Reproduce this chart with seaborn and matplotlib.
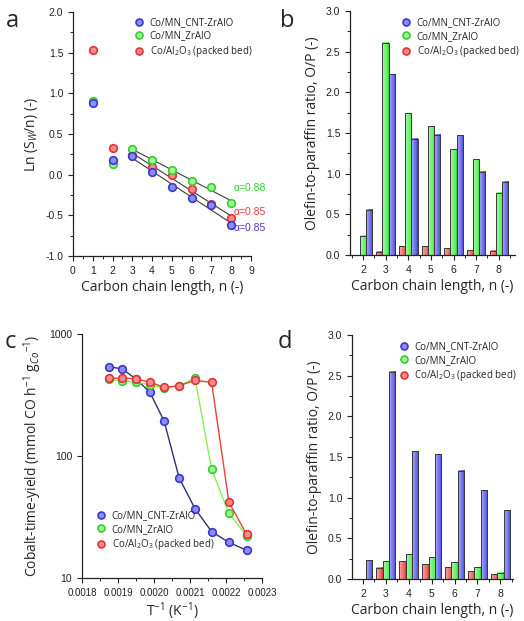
import numpy as np
import pandas as pd
import matplotlib
import matplotlib.pyplot as plt
import seaborn as sns
from matplotlib.lines import Line2D
from matplotlib.colors import to_rgb
from matplotlib.ticker import MultipleLocator, NullLocator, FixedLocator

matplotlib.use('Agg')

# --- Data ---
SERIES = ['Co/MN_CNT-ZrAlO', 'Co/MN_ZrAlO', 'Co/Al$_2$O$_3$ (packed bed)']

# (a) ASF plot
n_asf = [1, 2, 3, 4, 5, 6, 7, 8]
ln_cnt = [0.885, 0.186, 0.232, 0.030, -0.158, -0.293, -0.375, -0.617]
ln_zr = [0.905, 0.125, 0.313, 0.178, 0.060, -0.080, -0.154, -0.346]
ln_al = [1.530, 0.325, 0.244, 0.092, -0.010, -0.174, -0.355, -0.535]
alpha_labels = ['α=0.85', 'α=0.88', 'α=0.85']

# (b) O/P ratio, first condition
n_bar = ['2', '3', '4', '5', '6', '7', '8']
op_b_cnt = [0.557, 2.225, 1.43, 1.48, 1.475, 1.025, 0.90]
op_b_zr = [0.234, 2.61, 1.74, 1.585, 1.30, 1.18, 0.766]
op_b_al = [0.0, 0.04, 0.11, 0.11, 0.086, 0.057, 0.05]

# (c) Cobalt-time-yield vs 1/T
inv_t = [0.001876, 0.001912, 0.001949, 0.001988, 0.002028,
         0.002070, 0.002114, 0.002160, 0.002208, 0.002257]
cty_cnt = [540, 517, 430, 335, 194, 66, 37, 24, 19.6, 16.9]
cty_zr = [425, 414, 402, 385, 360, 377, 435, 78, 34, 22.2]
cty_al = [433, 436, 430, 404, 366, 377, 417, 402, 42, 22.8]

# (d) O/P ratio, second condition
op_d_cnt = [0.233, 2.55, 1.568, 1.535, 1.334, 1.089, 0.843]
op_d_zr = [0.0, 0.217, 0.307, 0.266, 0.209, 0.147, 0.078]
op_d_al = [0.0, 0.14, 0.217, 0.184, 0.147, 0.094, 0.061]

# --- Styling ---
sns.set_style('ticks')
plt.rcParams['font.family'] = ['Liberation Sans', 'DejaVu Sans']
plt.rcParams['mathtext.fontset'] = 'custom'
plt.rcParams['mathtext.rm'] = 'Open Sans'
plt.rcParams['mathtext.it'] = 'Open Sans:italic'

FACE = {'cnt': '#8c8cff', 'zr': '#9cff8c', 'al': '#ff8c8c'}
EDGE = {'cnt': '#3a3ac8', 'zr': '#38c838', 'al': '#e03434'}
BAR = {'cnt': '#4848e8', 'zr': '#44f044', 'al': '#f04848'}
LINE = {'cnt': '#303078', 'zr': '#88f050', 'al': '#f03c3c'}
KEYS = ['cnt', 'zr', 'al']

LABEL_FONT = dict(family='Open Sans', fontsize=10)
TICK_SIZE = 7.5
LEG_SIZE = 7


def style_axes(ax):
    sns.despine(ax=ax)
    ax.tick_params(axis='both', which='major', direction='out', length=3.5,
                   width=0.8, labelsize=TICK_SIZE, colors='#222222')
    ax.tick_params(axis='both', which='minor', direction='out', length=2, width=0.7)
    for s in ['left', 'bottom']:
        ax.spines[s].set_linewidth(0.9)
        ax.spines[s].set_color('#222222')


def marker_handles():
    return [Line2D([], [], ls='none', marker='o', ms=5, mfc=FACE[k], mec=EDGE[k], mew=1.2)
            for k in KEYS]


def add_legend(ax, **kw):
    ax.legend(marker_handles(), SERIES, frameon=False,
              prop={'family': 'Open Sans', 'size': LEG_SIZE},
              handletextpad=0.1, labelspacing=0.25, borderaxespad=0, **kw)


def shade_bars(ax):
    # light-to-full horizontal gradient inside each bar, like the original 3D-look bars
    for p in list(ax.patches):
        x, y = p.get_x(), p.get_y()
        w, h = p.get_width(), p.get_height()
        if h <= 0:
            continue
        base = np.array(to_rgb(p.get_facecolor()))
        t = np.linspace(0, 1, 32)[:, None]
        light = base * 0.45 + 0.55
        grad = light * (1 - t) + base * t
        grad[-4:] = base * 0.85
        ax.imshow(grad[None, :, :], extent=[x, x + w, y, y + h], aspect='auto',
                  interpolation='bilinear', zorder=p.get_zorder() - 0.01)
        p.set_facecolor('none')


fig = plt.figure(figsize=(5.24, 6.21), dpi=100)
ax_a = fig.add_axes([0.1393, 0.5878, 0.3397, 0.3929])
ax_b = fig.add_axes([0.668, 0.5894, 0.315, 0.3929])
ax_c = fig.add_axes([0.1565, 0.0692, 0.3435, 0.3929])
ax_d = fig.add_axes([0.672, 0.0676, 0.307, 0.3929])

# --- Panel a ---
df_a = pd.DataFrame({
    'n': n_asf * 3,
    'ln': ln_cnt + ln_zr + ln_al,
    'cat': ['cnt'] * 8 + ['zr'] * 8 + ['al'] * 8,
})
for k, vals in zip(KEYS, [ln_cnt, ln_zr, ln_al]):
    x_fit = np.array(n_asf[2:])
    coef = np.polyfit(x_fit, vals[2:], 1)
    ax_a.plot([x_fit[0], x_fit[-1]], np.polyval(coef, [x_fit[0], x_fit[-1]]),
              color='#3c3c3c', lw=0.8, zorder=1)
for k in ['al', 'zr', 'cnt']:
    sub = df_a[df_a['cat'] == k]
    sns.scatterplot(data=sub, x='n', y='ln', ax=ax_a, s=30, color=FACE[k],
                    edgecolor=EDGE[k], linewidth=1.2, zorder=3, legend=False)
ax_a.text(8.1, -0.66, alpha_labels[0], color='#4a3ad0', fontsize=7.5, va='center', clip_on=False)
ax_a.text(8.1, -0.46, alpha_labels[2], color='#f03c3c', fontsize=7.5, va='center', clip_on=False)
ax_a.text(8.1, -0.17, alpha_labels[1], color='#30d030', fontsize=7.5, va='center', clip_on=False)
ax_a.set_xlim(0, 9)
ax_a.set_ylim(-1.0, 2.0)
ax_a.xaxis.set_major_locator(MultipleLocator(1))
ax_a.xaxis.set_minor_locator(MultipleLocator(0.5))
ax_a.yaxis.set_major_locator(MultipleLocator(0.5))
ax_a.yaxis.set_minor_locator(MultipleLocator(0.25))
ax_a.yaxis.set_major_formatter(matplotlib.ticker.FormatStrFormatter('%.1f'))
ax_a.set_xlabel('Carbon chain length, n (-)', **LABEL_FONT, labelpad=3)
ax_a.set_ylabel('Ln (S$_W$/n) (-)', **LABEL_FONT, labelpad=4)
style_axes(ax_a)
add_legend(ax_a, loc='upper right', bbox_to_anchor=(1.03, 0.995))


# --- Bar panels ---
def bar_panel(ax, cnt, zr, al, xlim):
    df = pd.DataFrame({
        'n': n_bar * 3,
        'op': al + zr + cnt,
        'cat': ['al'] * 7 + ['zr'] * 7 + ['cnt'] * 7,
    })
    sns.barplot(data=df, x='n', y='op', hue='cat', hue_order=['al', 'zr', 'cnt'],
                palette=[BAR['al'], BAR['zr'], BAR['cnt']], width=0.82, gap=0,
                edgecolor='#3a3a3a', linewidth=0.7, saturation=1, ax=ax, legend=False)
    shade_bars(ax)
    ax.set_xlim(*xlim)
    ax.set_ylim(0, 3.0)
    ax.yaxis.set_major_locator(MultipleLocator(0.5))
    ax.yaxis.set_minor_locator(MultipleLocator(0.25))
    ax.yaxis.set_major_formatter(matplotlib.ticker.FormatStrFormatter('%.1f'))
    ax.xaxis.set_minor_locator(FixedLocator(np.arange(-0.5, 7, 1.0)))
    ax.set_xlabel('Carbon chain length, n (-)', **LABEL_FONT, labelpad=3)
    ax.set_ylabel('Olefin-to-paraffin ratio, O/P (-)', **LABEL_FONT, labelpad=4)
    style_axes(ax)
    add_legend(ax, loc='upper right', bbox_to_anchor=(1.05, 0.99))


bar_panel(ax_b, op_b_cnt, op_b_zr, op_b_al, (-0.57, 6.72))
bar_panel(ax_d, op_d_cnt, op_d_zr, op_d_al, (-0.47, 6.55))

# --- Panel c ---
df_c = pd.DataFrame({
    'x': inv_t * 3,
    'y': cty_cnt + cty_zr + cty_al,
    'cat': ['cnt'] * 10 + ['zr'] * 10 + ['al'] * 10,
})
for k in ['cnt', 'zr', 'al']:
    sub = df_c[df_c['cat'] == k]
    sns.lineplot(data=sub, x='x', y='y', ax=ax_c, color=LINE[k], lw=1.0,
                 marker='o', ms=5.5, mfc=FACE[k], mec=EDGE[k], mew=1.2, legend=False)
ax_c.set_yscale('log')
ax_c.set_ylim(10, 1000)
ax_c.set_xlim(0.0018, 0.0023)
ax_c.xaxis.set_major_locator(MultipleLocator(0.0001))
ax_c.xaxis.set_minor_locator(MultipleLocator(0.00005))
ax_c.xaxis.set_major_formatter(matplotlib.ticker.FormatStrFormatter('%.4f'))
ax_c.yaxis.set_major_locator(FixedLocator([10, 100, 1000]))
ax_c.yaxis.set_major_formatter(matplotlib.ticker.FormatStrFormatter('%d'))
ax_c.yaxis.set_minor_locator(NullLocator())
ax_c.set_xlabel('T$^{-1}$ (K$^{-1}$)', **LABEL_FONT, labelpad=2)
ax_c.set_ylabel('Cobalt-time-yield (mmol CO h$^{-1}$ g$_{Co}$$^{-1}$)', **LABEL_FONT, labelpad=4)
style_axes(ax_c)
ax_c.tick_params(axis='x', labelsize=7)
add_legend(ax_c, loc='lower left', bbox_to_anchor=(0.03, 0.09))

# --- Panel letters ---
for lab, x, y in [('a', 0.012, 0.985), ('b', 0.535, 0.985), ('c', 0.008, 0.468), ('d', 0.530, 0.468)]:
    fig.text(x, y, lab, fontsize=17, family='Open Sans', va='top', ha='left')

fig.savefig('out.png', dpi=100)
plt.close(fig)
